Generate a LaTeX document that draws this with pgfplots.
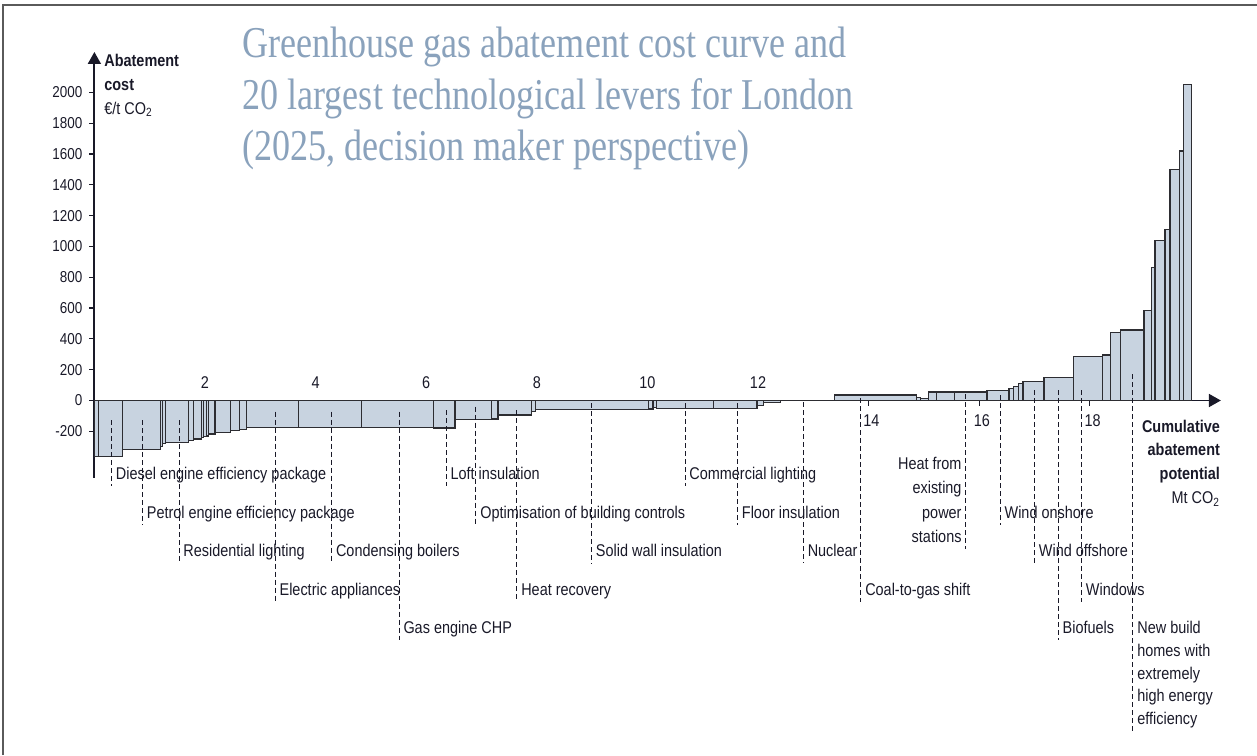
\documentclass[border=0pt]{standalone}
\usepackage{fontspec}
\setmainfont{Liberation Sans}[FakeStretch=0.85]
\newfontfamily\titlefont{Liberation Serif}[FakeStretch=0.82]
\usepackage{pgfplots}
\pgfplotsset{compat=1.18}
\usetikzlibrary{arrows.meta}
\definecolor{barfill}{RGB}{200,211,224}
\definecolor{bardraw}{RGB}{45,45,50}
\definecolor{titlec}{RGB}{138,162,188}
\definecolor{txt}{RGB}{25,25,40}
\definecolor{framec}{RGB}{90,90,90}
\newcommand{\lblfont}{\fontsize{8.5}{10}\selectfont}
\tikzset{lead/.style={txt, line width=0.5pt, dash pattern=on 2.5pt off 1.5pt},
         lab/.style={text=txt, font=\lblfont, inner xsep=2pt, inner ysep=0pt}}
\newcommand{\lab}[5]{%
  \draw[lead] (axis cs:#1,#2) -- (axis cs:#1,#4);
  \node[lab, anchor=base west] at (axis cs:#1,#3) {#5};
}
\begin{document}
\begin{tikzpicture}[x=1pt,y=1pt]
\path[use as bounding box] (0,0) rectangle (628.5,377.5);
\draw[framec, line width=1pt] (1.4,0) -- (1.4,375.2) -- (628.5,375.2);
\begin{scope}[every node/.style={anchor=base west, inner sep=0pt, text=titlec, font=\titlefont\fontsize{22}{26}\selectfont}]
\node at (121,348.5) {Greenhouse gas abatement cost curve and};
\node at (121,322.5) {20 largest technological levers for London};
\node at (121,297) {(2025, decision maker perspective)};
\end{scope}
\begin{axis}[
  anchor=origin, at={(47.2pt,177.25pt)},
  x=27.65pt, y=0.077pt,
  xmin=0, xmax=20.37, ymin=-500, ymax=2263,
  axis lines=middle,
  axis line style={line width=0.9pt, color=txt, -{Triangle[length=6pt,width=6.5pt]}},
  clip=false,
  xtick={2,4,...,18}, xticklabels={},
  ytick={-200,0,...,2000},
  hide obscured y ticks=false,
  hide obscured x ticks=false,
  tick style={color=txt, line width=0.6pt},
  major tick length=2.5pt,
  ytick align=outside, xtick align=outside,
  yticklabel style={font=\fontsize{7.9}{9}\selectfont, text=txt},
  /pgf/number format/assume math mode=true,
  /pgf/number format/1000 sep={},
  x tick label as interval=false,
]
\addplot[ybar interval, fill=barfill, draw=bardraw, line width=0.6pt] coordinates {
(0,-364) (0.07,-364) (0.51,-320) (1.20,-300) (1.235,-280) (1.29,-272)
(1.70,-259) (1.79,-250) (1.94,-240) (1.98,-236) (2.02,-230) (2.06,-218)
(2.18,-210) (2.46,-193) (2.62,-190) (2.75,-176) (3.69,-176) (4.83,-176)
(6.13,-178) (6.52,-123) (7.18,-120) (7.30,-94) (7.91,-73) (7.97,-57)
(10.02,-55) (10.10,-48) (10.17,-50) (11.19,-50) (11.98,-30) (12.10,-15)
(12.40,0) (13.39,36) (14.87,20) (14.94,15) (15.08,55) (15.23,55)
(15.56,55) (16.14,64) (16.54,79) (16.62,90) (16.71,112) (16.79,122)
(17.17,151) (17.71,284) (18.23,295) (18.37,440) (18.56,458) (18.98,583)
(19.11,865) (19.18,1038) (19.36,1112) (19.45,1501) (19.62,1620) (19.69,2050)
(19.84,0)
};
% x tick numbers
\begin{scope}[every node/.style={anchor=base, text=txt, inner sep=0pt, font=\fontsize{8.5}{10}\selectfont}]
\node at (axis cs:2,75) {2};
\node at (axis cs:4,75) {4};
\node at (axis cs:6,75) {6};
\node at (axis cs:8,75) {8};
\node at (axis cs:10,75) {10};
\node at (axis cs:12,75) {12};
\node at (axis cs:14.05,-172) {14};
\node at (axis cs:16.05,-172) {16};
\node at (axis cs:18.05,-172) {18};
\end{scope}
% axis titles
\begin{scope}[every node/.style={text=txt, inner sep=0pt, font=\lblfont}]
\node[anchor=base west] at (axis cs:0.173,2166) {\bfseries Abatement};
\node[anchor=base west] at (axis cs:0.173,2010) {\bfseries cost};
\node[anchor=base west] at (axis cs:0.173,1860) {€/t CO\textsubscript{2}};
\node[anchor=base east] at (axis cs:20.36,-205) {\bfseries Cumulative};
\node[anchor=base east] at (axis cs:20.36,-360) {\bfseries abatement};
\node[anchor=base east] at (axis cs:20.36,-516) {\bfseries potential};
\node[anchor=base east] at (axis cs:20.36,-672) {Mt CO\textsubscript{2}};
\end{scope}
% levers
\lab{0.31}{-127}{-513}{-558}{Diesel engine efficiency package}
\lab{0.87}{-127}{-763}{-808}{Petrol engine efficiency package}
\lab{1.53}{-127}{-1013}{-1058}{Residential lighting}
\lab{3.27}{-73}{-1264}{-1309}{Electric appliances}
\lab{4.29}{-73}{-1013}{-1058}{Condensing boilers}
\lab{5.51}{-73}{-1513}{-1558}{Gas engine CHP}
\lab{6.36}{-63}{-513}{-558}{Loft insulation}
\lab{6.90}{-40}{-763}{-808}{Optimisation of building controls}
\lab{7.64}{-63}{-1264}{-1309}{Heat recovery}
\lab{8.99}{-18}{-1013}{-1058}{Solid wall insulation}
\lab{10.68}{-18}{-513}{-558}{Commercial lighting}
\lab{11.63}{-18}{-763}{-808}{Floor insulation}
\lab{12.82}{-10}{-1013}{-1058}{Nuclear}
\lab{13.86}{16}{-1264}{-1309}{Coal-to-gas shift}
\lab{16.38}{35}{-763}{-808}{Wind onshore}
\lab{17.00}{68}{-1013}{-1058}{Wind offshore}
\lab{17.43}{68}{-1513}{-1558}{Biofuels}
\lab{17.85}{68}{-1264}{-1309}{Windows}
% heat from existing power stations (right aligned)
\draw[lead] (axis cs:15.76,40) -- (axis cs:15.76,-964);
\node[lab, anchor=base east] at (axis cs:15.76,-451) {Heat from};
\node[lab, anchor=base east] at (axis cs:15.76,-607) {existing};
\node[lab, anchor=base east] at (axis cs:15.76,-763) {power};
\node[lab, anchor=base east] at (axis cs:15.76,-919) {stations};
% new build homes
\draw[lead] (axis cs:18.78,170) -- (axis cs:18.78,-2152);
\node[lab, anchor=base west] at (axis cs:18.78,-1513) {New build};
\node[lab, anchor=base west] at (axis cs:18.78,-1661) {homes with};
\node[lab, anchor=base west] at (axis cs:18.78,-1809) {extremely};
\node[lab, anchor=base west] at (axis cs:18.78,-1957) {high energy};
\node[lab, anchor=base west] at (axis cs:18.78,-2105) {efficiency};
\end{axis}
\end{tikzpicture}
\end{document}
